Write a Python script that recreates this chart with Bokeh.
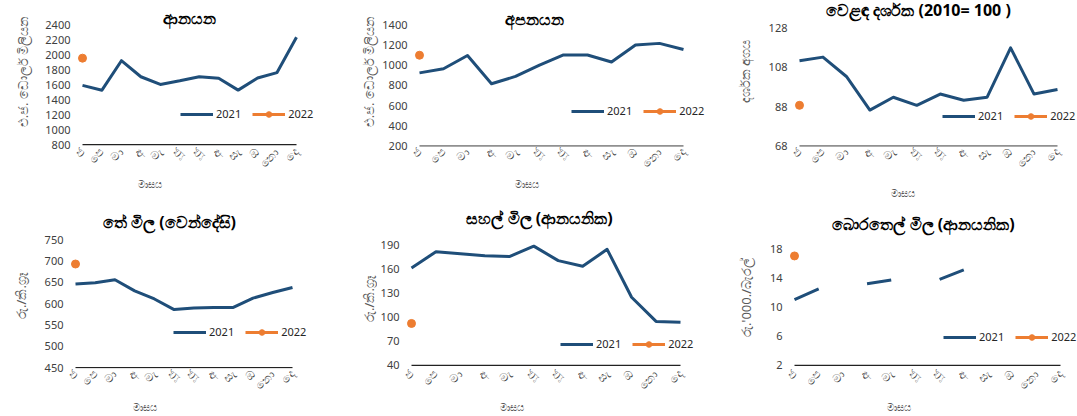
import math
from bokeh.plotting import figure
from bokeh.models import Range1d, FixedTicker, Label, Legend, LegendItem
from bokeh.layouts import row, column
from bokeh.embed import file_html
from bokeh.resources import INLINE

# ---------------- data ----------------
months = ["ජ", "පෙ", "මා", "අ", "මැ", "ජූ", "ජූ", "අ", "සැ", "ඔ", "නො", "දෙ"]
series_names = ["2021", "2022"]

imports_2021 = [1593, 1529, 1924, 1709, 1606, 1655, 1710, 1688, 1530, 1692, 1765, 2237]
imports_2022 = [1958]

exports_2021 = [923, 964, 1094, 816, 888, 999, 1100, 1100, 1030, 1198, 1214, 1154]
exports_2022 = [1097]

tot_2021 = [111.3, 113.1, 103.3, 86.3, 92.8, 88.7, 94.4, 91.3, 92.8, 117.8, 94.4, 96.7]
tot_2022 = [88.7]

tea_2021 = [646, 649, 656, 630, 611, 586, 590, 591, 591, 613, 626, 638]
tea_2022 = [693]

rice_2021 = [161, 181, 178.5, 176, 175, 188, 170, 163, 184, 124.5, 94.5, 93.5]
rice_2022 = [92]

nan = float("nan")
oil_2021 = [11.0, 12.5, nan, 13.2, 13.7, nan, 13.8, 15.1, nan, nan, nan, nan]
oil_2022 = [17.0]

titles = ["ආනයන", "අපනයන", "වෙළඳ දර්ශක (2010= 100 )",
          "තේ මිල  (වෙන්දේසි)", "සහල් මිල (ආනයනික)", "බොරතෙල් මිල (ආනයනික)"]
ylabels = ["එ.ජ. ඩොලර් මිලියන", "එ.ජ. ඩොලර් මිලියන", "දර්ශක අගය",
           "රු./කි.ග්‍රෑ", "රු./කි.ග්‍රෑ", "රු.'000./බැරල්"]
xlabel = "මාසය"

yticks = [
    [800, 1000, 1200, 1400, 1600, 1800, 2000, 2200, 2400],
    [200, 400, 600, 800, 1000, 1200, 1400],
    [68, 88, 108, 128],
    [450, 500, 550, 600, 650, 700, 750],
    [40, 70, 100, 130, 160, 190],
    [2, 6, 10, 14, 18],
]

BLUE = "#1F4E79"
ORANGE = "#ED7D31"
FONT = "Noto Sans"
GREY = "#595959"
PAD = 6  # px left of January so the marker is not cut


def blank(w, h, fb):
    """figure without axes; its frame is aligned with the row (top 0, bottom fb)"""
    f = figure(width=w, height=h, output_backend="svg", toolbar_location=None,
               x_axis_type=None, y_axis_type=None,
               x_range=Range1d(0, 1), y_range=Range1d(0, 1),
               min_border_left=0, min_border_right=0,
               min_border_top=0, min_border_bottom=h - fb)
    f.outline_line_color = None
    return f


def panel(w, h, B, wl, janx, decx, ytop, ybot, data21, data22, ticks, title, tpos,
          ylab, ylpos, legpos):
    """w, h: panel size; B: frame bottom shared by the row; wl: width of the strip
    holding the y title; positions are in panel pixels from its top-left corner."""
    L = int(round(janx - PAD))
    ppm = (decx - janx) / (len(months) - 1)
    ymin, ymax = ticks[0], ticks[-1]
    ppu = (ybot - ytop) / (ymax - ymin)

    s = blank(wl, h, B)
    s.add_layout(Label(x=ylpos[0], y=B - ylpos[1], x_units="screen", y_units="screen",
                       text=ylab, text_align="center", text_baseline="middle",
                       angle=math.pi / 2, text_font=FONT, text_font_size="13px",
                       text_color=GREY))

    p = figure(width=w - wl, height=h, output_backend="svg", toolbar_location=None,
               x_range=Range1d(-(janx - L) / ppm, (w - janx) / ppm),
               y_range=Range1d(ymin - (B - ybot) / ppu, ymax + ytop / ppu),
               min_border_left=L - wl, min_border_right=0,
               min_border_top=0, min_border_bottom=h - B)
    p.outline_line_color = None
    p.xgrid.visible = False
    p.ygrid.visible = False

    x = list(range(len(months)))
    # category axis line (January to December)
    p.line([x[0], x[-1]], [ymin, ymin], line_color="#222222", line_width=1.2)
    l21 = p.line(x, data21, line_color=BLUE, line_width=3, line_join="round")
    x22 = x[:len(data22)]
    l22 = p.line(x22, data22, line_color=ORANGE, line_width=3)
    s22 = p.scatter(x22, data22, size=8, marker="circle",
                    fill_color=ORANGE, line_color=ORANGE)

    ax = p.xaxis[0]
    ax.ticker = FixedTicker(ticks=x)
    ax.major_label_overrides = {i: m for i, m in enumerate(months)}
    ax.major_label_orientation = math.pi / 4
    ax.axis_line_color = None
    ax.major_tick_line_color = None
    ax.minor_tick_line_color = None
    ax.major_tick_out = 0
    ax.major_tick_in = 0
    ax.major_label_text_font = FONT
    ax.major_label_text_font_size = "11.5px"
    ax.major_label_text_color = "#404040"
    ax.major_label_standoff = 3

    ay = p.yaxis[0]
    ay.ticker = FixedTicker(ticks=ticks)
    ay.axis_line_color = None
    ay.major_tick_line_color = None
    ay.minor_tick_line_color = None
    ay.major_tick_out = 0
    ay.major_tick_in = 0
    ay.major_label_text_font = FONT
    ay.major_label_text_font_size = "11px"
    ay.major_label_text_color = "#404040"
    ay.major_label_standoff = 6

    p.add_layout(Label(x=tpos[0] - L, y=B - tpos[1], x_units="screen", y_units="screen",
                       text=title, text_align="center", text_baseline="middle",
                       text_font=FONT, text_font_size="16px", text_font_style="bold",
                       text_color="black"))

    leg = Legend(items=[LegendItem(label=series_names[0], renderers=[l21]),
                        LegendItem(label=series_names[1], renderers=[l22, s22])],
                 orientation="horizontal",
                 location=(legpos[0] - L, B - legpos[1] - 7),
                 glyph_width=33, glyph_height=14, label_height=14,
                 label_standoff=3, spacing=11, padding=0, margin=0,
                 border_line_alpha=0, background_fill_alpha=0,
                 label_text_font=FONT, label_text_font_size="11px",
                 label_text_color="#262626")
    p.add_layout(leg, "center")
    return s, p


def xstrip(w, h, centers):
    f = blank(w, h, h)
    for cx, cy in centers:
        f.add_layout(Label(x=cx, y=h - cy, x_units="screen", y_units="screen",
                           text=xlabel, text_align="center", text_baseline="middle",
                           text_font=FONT, text_font_size="9.5px", text_color=GREY))
    return f


H1, H2 = 178, 195          # plot heights of the two rows
S1, S2 = 27, 15            # heights of the strips with the x-axis titles
B1, B2 = 152, 170          # frame bottoms (row-relative) shared by each row

s1, p1 = panel(359, H1, B1, 40, 82, 296, 25.7, 150, imports_2021, imports_2022, yticks[0],
               titles[0], (189, 23), ylabels[0], (22, 77), (180, 120))
s2, p2 = panel(359, H1, B1, 20, 60, 324, 25, 151.7, exports_2021, exports_2022, yticks[1],
               titles[1], (175, 24), ylabels[1], (9, 77), (212, 117))
s3, p3 = panel(359, H1, B1, 40, 81, 339, 28.3, 151.7, tot_2021, tot_2022, yticks[2],
               titles[2], (200, 15), ylabels[2], (26, 77), (224, 122))
s4, p4 = panel(359, H2, B2, 36, 75, 292, 35.7, 169, tea_2021, tea_2022, yticks[3],
               titles[3], (171, 23), ylabels[3], (20, 97), (173, 134))
s5, p5 = panel(359, H2, B2, 18, 52, 321, 40.7, 166.7, rice_2021, rice_2022, yticks[4],
               titles[4], (180, 19), ylabels[4], (9, 100), (201, 146))
s6, p6 = panel(359, H2, B2, 42, 76, 342, 45, 166.7, oil_2021, oil_2022, yticks[5],
               titles[5], (205, 25), ylabels[5], (27, 99), (225, 139))

x1 = xstrip(1077, S1, [(149, 184 - H1), (526, 184 - H1), (902, 193 - H1)])
x2 = xstrip(1077, S2, [(144, 407 - 205 - H2), (511, 407 - 205 - H2), (898, 407 - 205 - H2)])

layout = column(row(s1, p1, s2, p2, s3, p3), x1,
                row(s4, p4, s5, p5, s6, p6), x2)

open("out.html", "w").write(file_html(layout, INLINE))
